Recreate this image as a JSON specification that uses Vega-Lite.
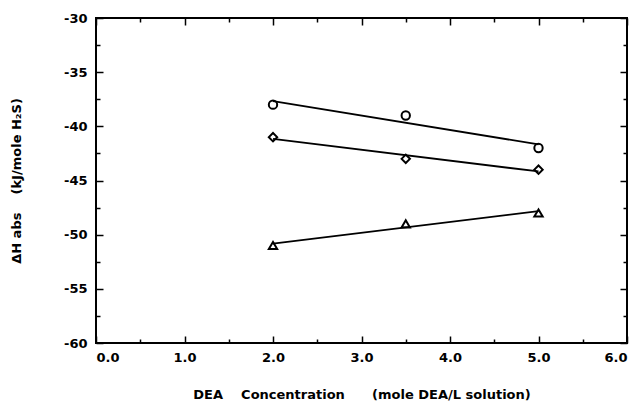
{
  "$schema": "https://vega.github.io/schema/vega-lite/v6.json",
  "width": 531,
  "height": 325,
  "autosize": "none",
  "padding": {"left": 96, "top": 18, "right": 15, "bottom": 61},
  "background": "white",
  "config": {
    "view": {"stroke": "black", "strokeWidth": 2},
    "font": "DejaVu Sans",
    "axis": {"domain": false, "grid": false, "tickColor": "black", "tickWidth": 1.5}
  },
  "data": {
    "values": [
      {"x": 2.0, "y": -38, "s": "circle"},
      {"x": 3.5, "y": -39, "s": "circle"},
      {"x": 5.0, "y": -42, "s": "circle"},
      {"x": 2.0, "y": -41, "s": "diamond"},
      {"x": 3.5, "y": -43, "s": "diamond"},
      {"x": 5.0, "y": -44, "s": "diamond"},
      {"x": 2.0, "y": -51, "s": "triangle"},
      {"x": 3.5, "y": -49, "s": "triangle"},
      {"x": 5.0, "y": -48, "s": "triangle"}
    ]
  },
  "resolve": {"axis": {"x": "independent", "y": "independent"}},
  "layer": [
    {
      "transform": [{"regression": "y", "on": "x", "groupby": ["s"]}],
      "mark": {"type": "line", "color": "black", "strokeWidth": 1.8},
      "encoding": {
        "x": {"field": "x", "type": "quantitative", "scale": {"domain": [0, 6], "nice": false, "zero": false},
          "axis": {"orient": "top", "title": null, "labels": false, "values": [0,0.5,1,1.5,2,2.5,3,3.5,4,4.5,5,5.5,6], "tickSize": {"expr": "datum.value % 1 === 0 ? -7 : -4"}}},
        "y": {"field": "y", "type": "quantitative", "scale": {"domain": [-60, -30], "nice": false, "zero": false},
          "axis": {"orient": "right", "title": null, "labels": false, "values": [-60,-57.5,-55,-52.5,-50,-47.5,-45,-42.5,-40,-37.5,-35,-32.5,-30], "tickSize": {"expr": "datum.value % 5 === 0 ? -7 : -4"}}},
        "detail": {"field": "s"}
      }
    },
    {
      "mark": {"type": "point", "filled": false, "color": "black", "strokeWidth": 2, "size": 70, "opacity": 1},
      "encoding": {
        "x": {"field": "x", "type": "quantitative",
          "axis": {"orient": "bottom", "title": "DEA\u00a0\u00a0\u00a0\u00a0Concentration\u00a0\u00a0\u00a0\u00a0\u00a0\u00a0(mole DEA/L solution)", "values": [0,0.5,1,1.5,2,2.5,3,3.5,4,4.5,5,5.5,6], "labelExpr": "datum.value % 1 === 0 ? format(datum.value, '.1f') : ''", "tickSize": {"expr": "datum.value % 1 === 0 ? -7 : -4"}, "labelPadding": 15, "titlePadding": 24,
            "labelFont": "DejaVu Sans", "labelFontWeight": "bold", "labelFontSize": 13, "labelColor": "black", "titleFont": "DejaVu Sans", "titleFontWeight": "bold", "titleFontSize": 13, "titleColor": "black"}},
        "y": {"field": "y", "type": "quantitative",
          "axis": {"orient": "left", "title": "ΔH\u00a0abs\u00a0\u00a0\u00a0\u00a0(kJ/mole H₂S)", "values": [-60,-57.5,-55,-52.5,-50,-47.5,-45,-42.5,-40,-37.5,-35,-32.5,-30], "labelExpr": "datum.value % 5 === 0 ? '-' + abs(datum.value) : ''", "tickSize": {"expr": "datum.value % 5 === 0 ? -7 : -4"}, "labelPadding": 16, "titlePadding": 40,
            "labelFont": "DejaVu Sans", "labelFontWeight": "bold", "labelFontSize": 13, "labelColor": "black", "titleFont": "DejaVu Sans", "titleFontWeight": "bold", "titleFontSize": 13, "titleColor": "black"}},
        "shape": {"field": "s", "type": "nominal", "scale": {"domain": ["circle", "diamond", "triangle"], "range": ["circle", "diamond", "triangle-up"]}, "legend": null}
      }
    }
  ]
}
